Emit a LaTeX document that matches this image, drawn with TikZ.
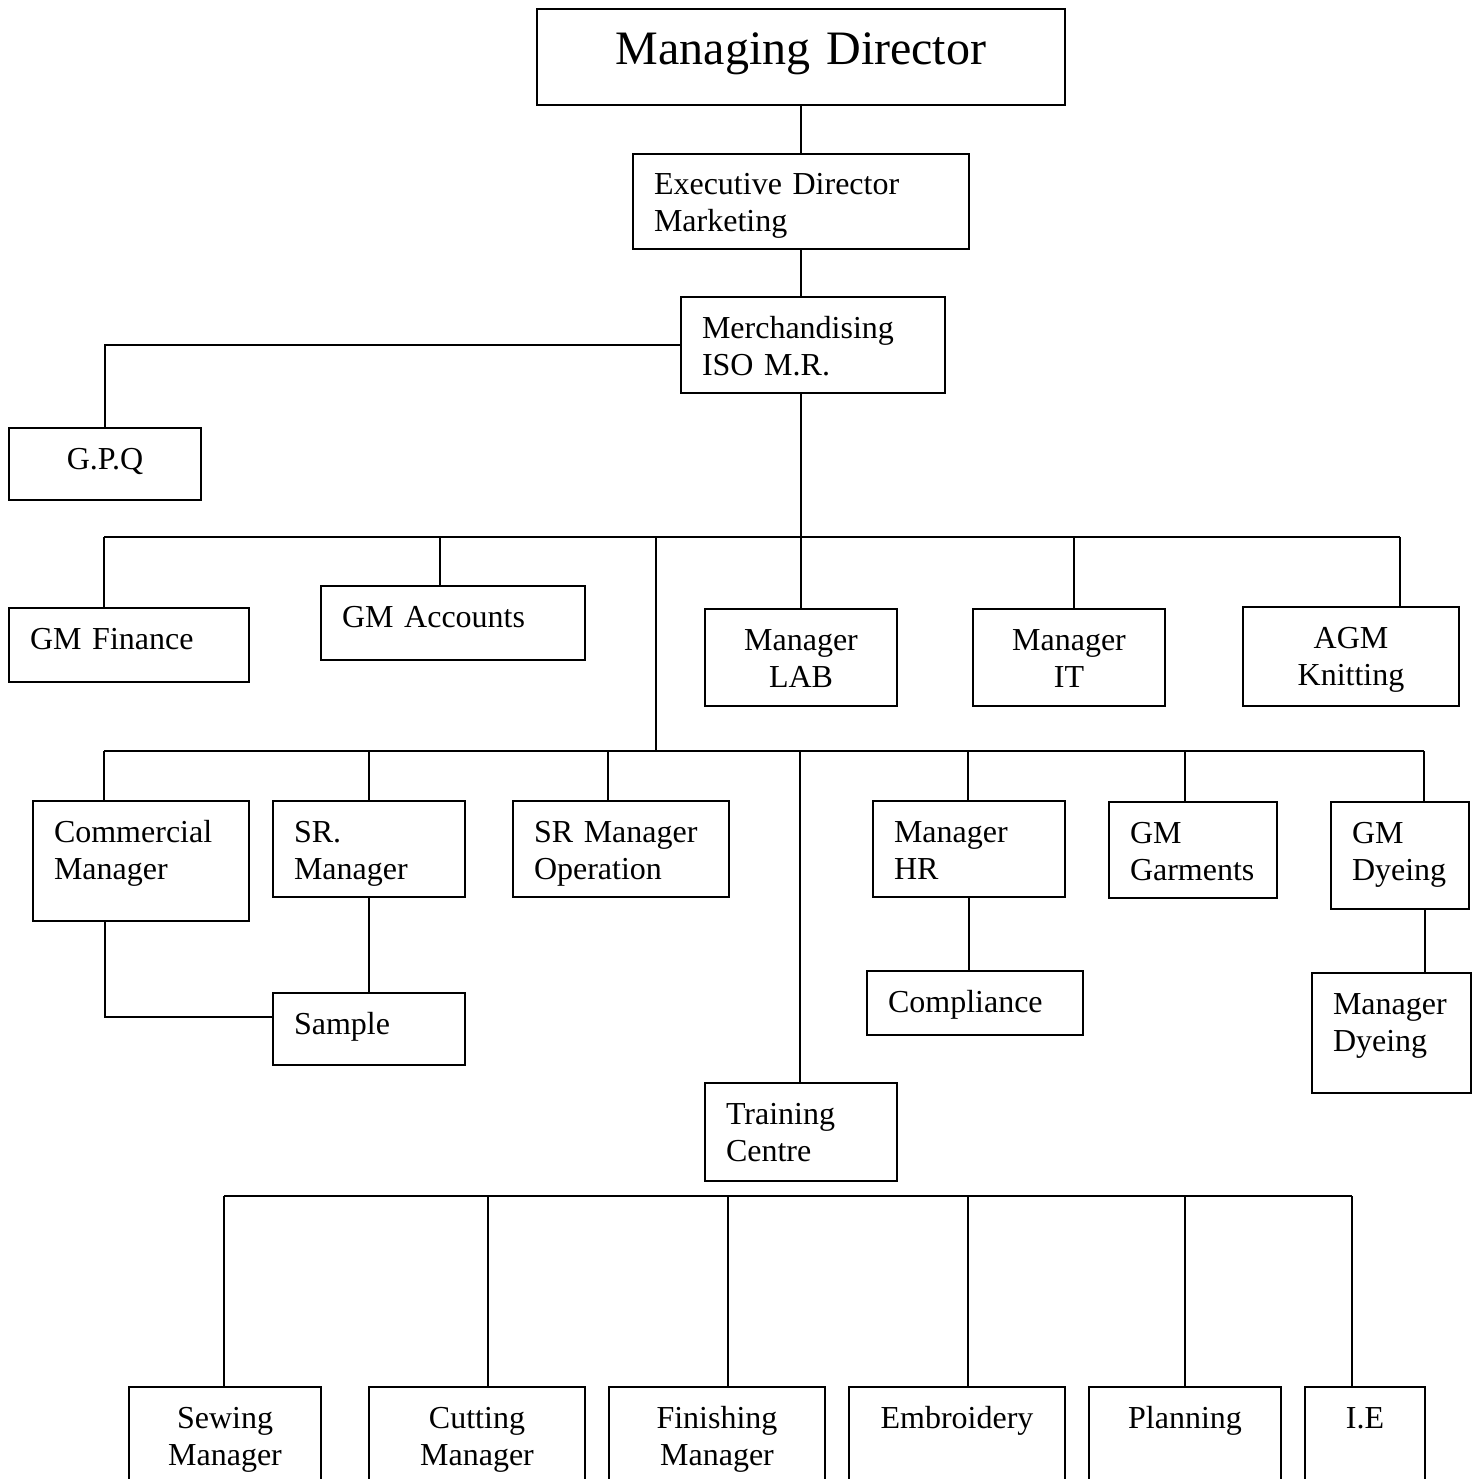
\documentclass[tikz,border=0pt]{standalone}
\usepackage{fontspec}
\setmainfont{Liberation Serif}
\newcommand\unitfont{\fontsize{32}{37}\selectfont}
\newcommand\topfont{\fontsize{48}{55}\selectfont}
\tikzset{
  unit/.style 2 args={draw, line width=2pt, rectangle, anchor=north west,
    inner xsep=21pt, inner ysep=0pt, align=left, font=\unitfont,
    text width={(#1-42)*1pt}, text height=41pt, text depth={(#2-41)*1pt}},
  link/.style={line width=2pt},
}
\begin{document}
\begin{tikzpicture}[x=1pt, y=-1pt]
    \useasboundingbox (0,0) rectangle (1479,1479);
    \clip (0,0) rectangle (1479,1479);
    \fill[white] (0,0) rectangle (1479,1479);

    % Top of the chart
    \node[unit={528}{96}, align=center, font=\topfont, text height=56pt, text depth=40pt] (md) at (536,8) {Managing Director};
    \node[unit={336}{95}] (ed) at (632,153) {Executive Director\\Marketing};
    \node[unit={264}{96}] (merch) at (680,296) {Merchandising\\ISO M.R.};
    \node[unit={192}{72}, align=center] (gpq) at (8,427) {G.P.Q};

    % First row
    \node[unit={240}{74}] (fin) at (8,607) {GM Finance};
    \node[unit={264}{74}] (acc) at (320,585) {GM Accounts};
    \node[unit={192}{97}, align=center] (lab) at (704,608) {Manager\\LAB};
    \node[unit={192}{97}, align=center] (it) at (972,608) {Manager\\IT};
    \node[unit={216}{99}, align=center] (agm) at (1242,606) {AGM\\Knitting};

    % Second row
    \node[unit={216}{120}] (com) at (32,800) {Commercial\\Manager};
    \node[unit={192}{96}] (srm) at (272,800) {SR.\\Manager};
    \node[unit={216}{96}] (sro) at (512,800) {SR Manager\\Operation};
    \node[unit={192}{96}] (hr) at (872,800) {Manager\\HR};
    \node[unit={168}{96}] (gar) at (1108,801) {GM\\Garments};
    \node[unit={138}{107}] (dye) at (1330,801) {GM\\Dyeing};
    \node[unit={192}{72}] (smp) at (272,992) {Sample};
    \node[unit={216}{64}] (cmp) at (866,970) {Compliance};
    \node[unit={159}{120}] (mdy) at (1311,972) {Manager\\Dyeing};
    \node[unit={192}{98}] (trn) at (704,1082) {Training\\Centre};

    % Bottom row
    \node[unit={192}{134}, align=center] (sew) at (128,1386) {Sewing\\Manager};
    \node[unit={216}{134}, align=center] (cut) at (368,1386) {Cutting\\Manager};
    \node[unit={216}{134}, align=center] (fsh) at (608,1386) {Finishing\\Manager};
    \node[unit={216}{134}, align=center] (emb) at (848,1386) {Embroidery};
    \node[unit={192}{134}, align=center] (pla) at (1088,1386) {Planning};
    \node[unit={120}{134}, align=center] (ie) at (1304,1386) {I.E};

    % Links down the middle
    \draw[link] (md.south) -- (ed.north);
    \draw[link] (ed.south) -- (ed.south |- merch.north);
    \draw[link] (merch.west) -| (gpq.north);
    \draw[link] (lab.north |- merch.south) -- (lab.north);

    % First bus
    \draw[link] (104,537) -- (1400,537);
    \foreach \x/\n in {104/fin, 440/acc, 1074/it, 1400/agm}
        \draw[link] (\x,537) -- (\x,537 |- \n.north);
    \draw[link] (656,537) -- (656,751);

    % Second bus
    \draw[link] (104,751) -- (1424,751);
    \foreach \x/\n in {104/com, 369/srm, 608/sro, 800/trn, 968/hr, 1185/gar, 1424/dye}
        \draw[link] (\x,751) -- (\x,751 |- \n.north);
    \draw[link] ([xshift=-36pt]com.south) |- ([yshift=12pt]smp.west);
    \draw[link] (srm.south) -- (srm.south |- smp.north);
    \draw[link] (hr.south) -- (hr.south |- cmp.north);
    \coordinate (dyedrop) at ([xshift=25pt]dye.south);
    \draw[link] (dyedrop) -- (dyedrop |- mdy.north);

    % Third bus
    \draw[link] (224,1196) -- (1352,1196);
    \foreach \x/\n in {224/sew, 488/cut, 728/fsh, 968/emb, 1185/pla, 1352/ie}
        \draw[link] (\x,1196) -- (\x,1196 |- \n.north);
\end{tikzpicture}
\end{document}
